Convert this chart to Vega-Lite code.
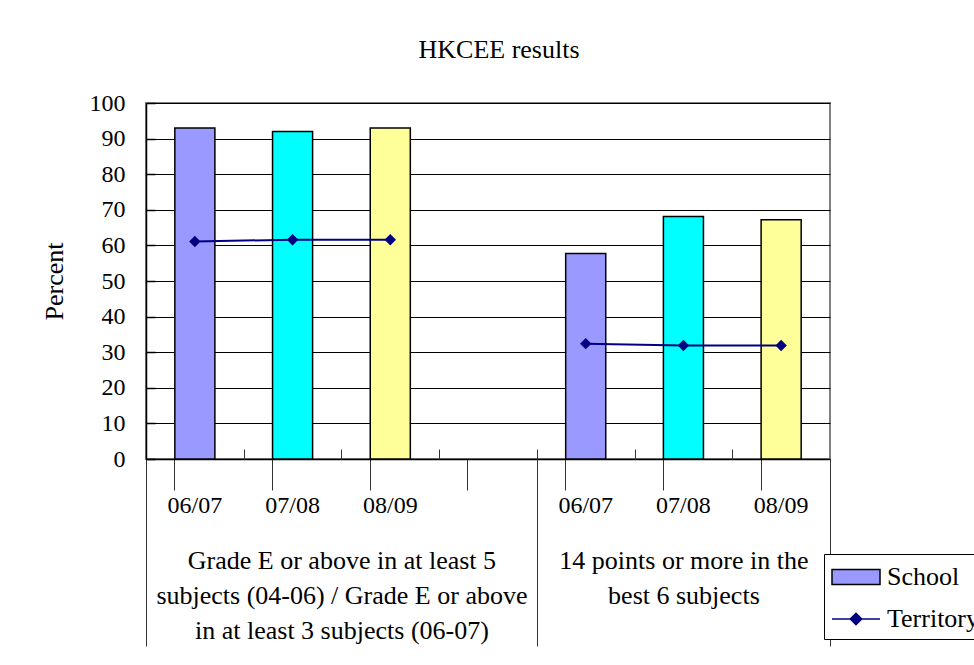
{
  "$schema": "https://vega.github.io/schema/vega-lite/v6.json",
  "width": 684,
  "height": 356,
  "autosize": {"type": "none"},
  "padding": {"left": 146, "top": 103, "right": 144, "bottom": 206},
  "background": "white",
  "title": {"text": "HKCEE results", "font": "Liberation Serif", "fontSize": 26, "fontWeight": "normal", "color": "black", "anchor": "middle", "frame": "group", "baseline": "alphabetic", "offset": 7, "dx": 11},
  "config": {
    "view": {"stroke": "#808080", "strokeWidth": 2},
    "axis": {"labelFont": "Liberation Serif", "titleFont": "Liberation Serif", "labelColor": "black", "titleColor": "black"},
    "axisY": {"values": [0, 10, 20, 30, 40, 50, 60, 70, 80, 90, 100], "grid": true, "gridColor": "black", "gridWidth": 1, "domainColor": "black", "domainWidth": 1.5, "tickColor": "black", "tickSize": -9, "tickWidth": 1.5, "labelFontSize": 24, "labelPadding": 30, "labelBaseline": "middle", "labelOverlap": false, "titleFontSize": 26, "titleFontWeight": "normal", "titleX": -84, "titleY": 178, "titleBaseline": "alphabetic", "titleAngle": 270}
  },
  "datasets": {
    "results": [
      {"slot": "1|06/07", "year": "06/07", "grp": "g1", "series": "Territory", "school": 93, "territory": 61.1},
      {"slot": "2|07/08", "year": "07/08", "grp": "g1", "series": "Territory", "school": 92, "territory": 61.6},
      {"slot": "3|08/09", "year": "08/09", "grp": "g1", "series": "Territory", "school": 93, "territory": 61.6},
      {"slot": "5|06/07", "year": "06/07", "grp": "g2", "series": "Territory", "school": 57.7, "territory": 32.4},
      {"slot": "6|07/08", "year": "07/08", "grp": "g2", "series": "Territory", "school": 68.1, "territory": 31.9},
      {"slot": "7|08/09", "year": "08/09", "grp": "g2", "series": "Territory", "school": 67.2, "territory": 31.9}
    ],
    "groups": [
      {"group": "Grade E or above in at least 5 subjects (04-06) / Grade E or above in at least 3 subjects (06-07)", "start": 0},
      {"group": "14 points or more in the best 6 subjects", "start": 4},
      {"group": "end", "start": 7}
    ]
  },
  "layer": [
    {
      "layer": [
        {
          "data": {"name": "results"},
          "mark": {"type": "bar", "stroke": "black", "strokeWidth": 1.5},
          "encoding": {
            "x": {
              "field": "slot", "type": "nominal",
              "scale": {"type": "band", "domain": ["1|06/07", "2|07/08", "3|08/09", "4|", "5|06/07", "6|07/08", "7|08/09"], "paddingInner": 0.59, "paddingOuter": 0.295},
              "axis": {"title": null, "labelExpr": "split(datum.value, '|')[1]", "labelAngle": 0, "labelFontSize": 24, "labelBaseline": "alphabetic", "labelPadding": 22, "bandPosition": 0, "tickSize": 31, "tickColor": "#333333", "tickWidth": 1, "domainColor": "black", "domainWidth": 1.5, "grid": false}
            },
            "y": {
              "field": "school", "type": "quantitative", "title": "Percent",
              "scale": {"domain": [0, 100], "nice": false}
            },
            "color": {"field": "year", "type": "nominal", "scale": {"domain": ["06/07", "07/08", "08/09"], "range": ["#9999FF", "#00FFFF", "#FFFF99"]}, "legend": null}
          }
        },
        {
          "data": {"name": "results"},
          "mark": {"type": "line", "strokeWidth": 2},
          "encoding": {
            "x": {"field": "slot", "type": "nominal"},
            "y": {"field": "territory", "type": "quantitative", "title": "Percent"},
            "detail": {"field": "grp"},
            "stroke": {
              "field": "series", "type": "nominal",
              "scale": {"domain": ["School", "Territory"], "range": ["#000000", "#000080"]},
              "legend": {
                "title": null, "orient": "none", "legendX": 678, "legendY": 451,
                "labelFont": "Liberation Serif", "labelFontSize": 26, "labelColor": "black",
                "strokeColor": "black", "fillColor": "white", "padding": 7, "rowPadding": 13,
                "labelOffset": 15, "symbolSize": 900, "symbolOffset": 9, "symbolStrokeWidth": 1.5,
                "encode": {
                  "symbols": {
                    "update": {
                      "shape": {"signal": "datum.value === 'School' ? 'M-1.6,-0.5H1.6V0.5H-1.6Z' : 'M-1.6,0H1.6M0,-0.38L0.38,0L0,0.38L-0.38,0Z'"},
                      "fill": {"signal": "datum.value === 'School' ? '#9999FF' : '#000080'"},
                      "stroke": {"signal": "datum.value === 'School' ? '#000000' : '#000080'"},
                      "strokeWidth": {"value": 1.5},
                      "opacity": {"value": 1},
                      "fillOpacity": {"value": 1},
                      "strokeOpacity": {"value": 1}
                    }
                  }
                }
              }
            }
          }
        },
        {
          "data": {"name": "results"},
          "mark": {"type": "point", "shape": "diamond", "filled": true, "size": 130, "color": "#000080", "opacity": 1},
          "encoding": {
            "x": {"field": "slot", "type": "nominal"},
            "y": {"field": "territory", "type": "quantitative", "title": "Percent"}
          }
        }
      ]
    },
    {
      "data": {"name": "groups"},
      "mark": {"type": "point", "opacity": 0},
      "encoding": {
        "x": {
          "field": "start", "type": "quantitative",
          "scale": {"domain": [0, 7], "nice": false, "zero": false},
          "axis": {
            "orient": "bottom", "title": null, "values": [0, 2, 4, 5.5, 7],
            "labelExpr": "datum.value == 2 ? ['Grade E or above in at least 5', 'subjects (04-06) / Grade E or above', 'in at least 3 subjects (06-07)'] : datum.value == 5.5 ? ['14 points or more in the', 'best 6 subjects'] : ''",
            "labelFontSize": 26, "labelLineHeight": 35, "labelBaseline": "top", "labelPadding": -99, "labelAlign": "center", "labelLimit": 0,
            "labelFlush": false, "labelOverlap": false, "labelBound": false,
            "tickSize": 187, "tickColor": "#333333", "tickWidth": 1,
            "tickOpacity": {"condition": {"test": "datum.value == 2 || datum.value == 5.5", "value": 0}, "value": 1},
            "domain": false, "grid": false
          }
        }
      }
    },
    {
      "data": {"name": "groups"},
      "mark": {"type": "point", "opacity": 0},
      "encoding": {
        "x": {
          "field": "start", "type": "quantitative",
          "scale": {"domain": [0, 7], "nice": false, "zero": false},
          "axis": {"orient": "bottom", "title": null, "values": [1, 2, 3, 4, 5, 6], "labels": false, "tickSize": -10, "tickColor": "#333333", "tickWidth": 1, "domain": false, "grid": false}
        }
      }
    }
  ],
  "resolve": {"scale": {"x": "independent"}}
}
